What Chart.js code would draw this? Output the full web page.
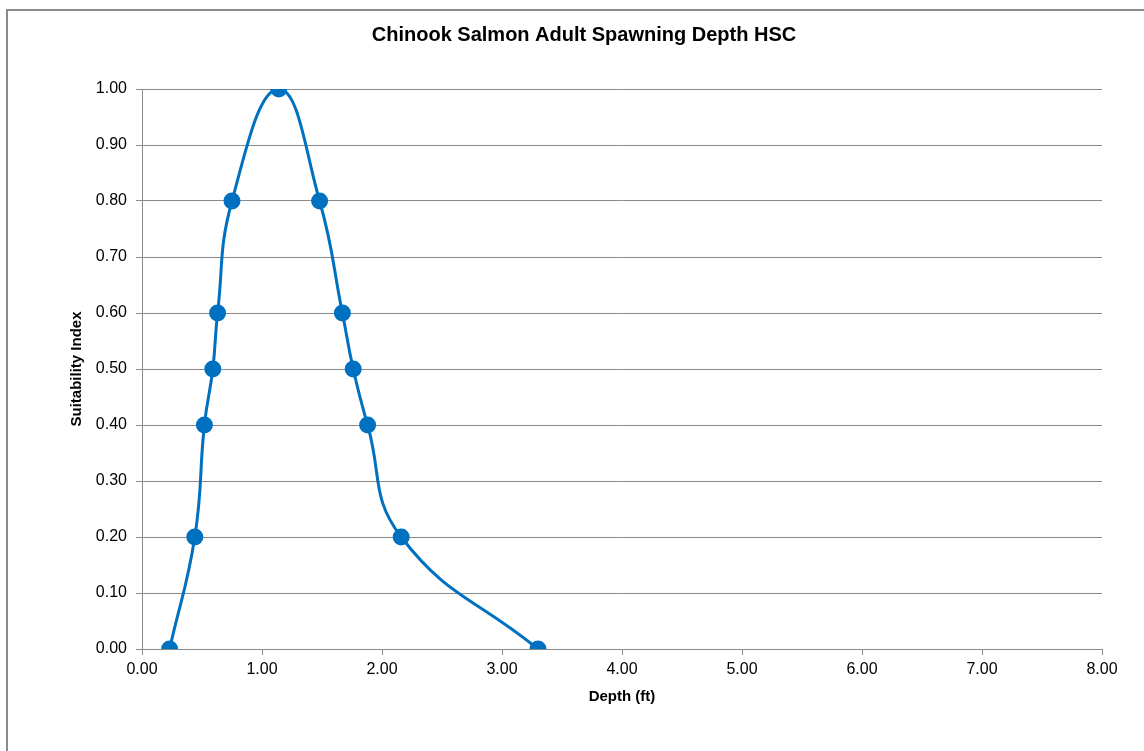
<!DOCTYPE html>
<html>
<head>
<meta charset="utf-8">
<script src="https://cdn.jsdelivr.net/npm/chart.js@4.4.1/dist/chart.umd.min.js"></script>
<style>
  html, body { margin: 0; padding: 0; background: #fff; overflow: hidden; }
  #wrap { position: relative; width: 1144px; height: 751px; }
</style>
</head>
<body>
<div id="wrap"><canvas id="chart" width="1144" height="751"></canvas></div>
<script>
// data
const depthFt = [0.23, 0.44, 0.52, 0.59, 0.63, 0.75, 1.14, 1.48, 1.67, 1.76, 1.88, 2.16, 3.30];
const suitability = [0.00, 0.20, 0.40, 0.50, 0.60, 0.80, 1.00, 0.80, 0.60, 0.50, 0.40, 0.20, 0.00];
const xTicks = [0, 1, 2, 3, 4, 5, 6, 7, 8];
const yTicks = [0, 0.1, 0.2, 0.3, 0.4, 0.5, 0.6, 0.7, 0.8, 0.9, 1.0];

const blue = "#0070C0";
const gridGrey = "#8a8a8a";
const font = "'Liberation Sans', Arial, sans-serif";

// outer frame like the Excel chart border
const frame = {
  id: "frame",
  beforeDraw(chart) {
    const c = chart.ctx;
    c.save();
    c.fillStyle = "#fff";
    c.fillRect(0, 0, chart.width, chart.height);
    c.strokeStyle = "#8c8c8c";
    c.lineWidth = 2;
    c.strokeRect(7, 10, chart.width + 20, chart.height + 20);
    c.restore();
  }
};

// the Excel title sits a bit right of the canvas centre
const titleShift = {
  id: "titleShift",
  afterLayout(chart) {
    if (chart.titleBlock) {
      chart.titleBlock.left += 33;
      chart.titleBlock.right += 33;
    }
  }
};

const points = depthFt.map((x, i) => ({ x: x, y: suitability[i] }));

new Chart(document.getElementById("chart"), {
  type: "scatter",
  data: {
    datasets: [{
      data: points,
      showLine: true,
      tension: 0.45,
      borderColor: blue,
      borderWidth: 3,
      backgroundColor: blue,
      pointBackgroundColor: blue,
      pointBorderColor: blue,
      pointRadius: 7,
      pointHoverRadius: 7
    }]
  },
  options: {
    responsive: false,
    animation: false,
    layout: { padding: { left: 0, right: 42, top: 0, bottom: 0 } },
    plugins: {
      legend: { display: false },
      tooltip: { enabled: false },
      title: {
        display: true,
        text: "Chinook Salmon Adult Spawning Depth HSC",
        color: "#000",
        font: { family: font, size: 20, weight: "bold" },
        padding: { top: 23, bottom: 42 }
      }
    },
    scales: {
      x: {
        type: "linear",
        min: 0,
        max: 8,
        afterBuildTicks(scale) { scale.ticks = xTicks.map(v => ({ value: v })); },
        afterFit(scale) { scale.height = 102; },
        ticks: {
          color: "#000",
          font: { family: font, size: 16 },
          padding: 5,
          maxRotation: 0,
          callback: v => v.toFixed(2)
        },
        grid: { drawOnChartArea: false, drawTicks: true, tickLength: 6, color: gridGrey },
        border: { display: true, color: gridGrey, width: 1 },
        title: {
          display: true,
          text: "Depth (ft)",
          color: "#000",
          font: { family: font, size: 15, weight: "bold" },
          padding: { top: 0, bottom: 45 }
        }
      },
      y: {
        type: "linear",
        min: 0,
        max: 1,
        afterBuildTicks(scale) { scale.ticks = yTicks.map(v => ({ value: v })); },
        afterFit(scale) { scale.width = 142; },
        ticks: {
          color: "#000",
          font: { family: font, size: 16 },
          padding: 9,
          callback: v => v.toFixed(2)
        },
        grid: { drawOnChartArea: true, drawTicks: true, tickLength: 6, color: gridGrey },
        border: { display: true, color: gridGrey, width: 1 },
        title: {
          display: true,
          text: "Suitability Index",
          color: "#000",
          font: { family: font, size: 15, weight: "bold" },
          padding: { top: 68, bottom: 0 }
        }
      }
    }
  },
  plugins: [frame, titleShift]
});
</script>
</body>
</html>
